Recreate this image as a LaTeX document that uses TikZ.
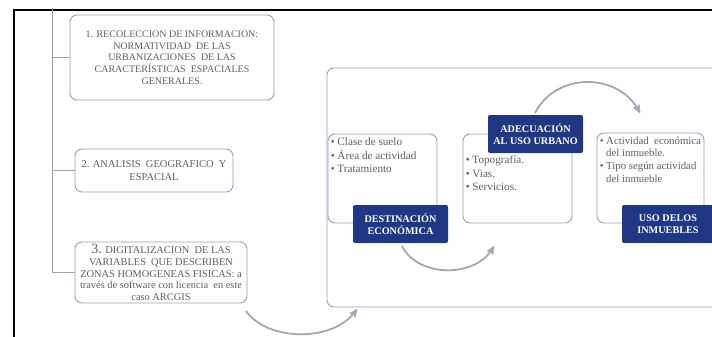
\documentclass[tikz,border=0pt]{standalone}
\usepackage{fontspec}
\setmainfont{Liberation Serif}
\usetikzlibrary{arrows,positioning}
\definecolor{boxline}{RGB}{150,158,195}
\definecolor{navy}{RGB}{32,56,132}
\definecolor{greytext}{RGB}{95,95,95}
\definecolor{arcgrey}{RGB}{165,165,180}
\tikzset{phase box/.style={rectangle,rounded corners=7pt,draw=boxline,line width=0.9pt,fill=white,text=greytext,align=center,font=\fontsize{10}{11.7}\selectfont,inner sep=2pt},
         item box/.style={rectangle,rounded corners=7pt,draw=boxline,line width=0.9pt,fill=white,minimum width=109pt,minimum height=89pt,inner sep=0pt},
         title box/.style={rectangle,rounded corners=2pt,fill=navy,text=white,align=center,font=\bfseries\fontsize{10.2}{12}\selectfont,minimum height=38pt,inner sep=0pt},
         item text/.style={anchor=north west,text=greytext,align=left,inner sep=0pt,font=\fontsize{11.2}{13.5}\selectfont},
         flow arc/.style={draw=arcgrey,line width=1.8pt,->,>=stealth'}
}

\begin{document}
\begin{tikzpicture}[x=1pt,y=-1pt]
\clip (0,0) rectangle (712,337);
\fill[white] (0,0) rectangle (712,337);
% frame
\draw[line width=2pt] (14,337) -- (14,10) -- (712,10);

% steps
\node[phase box,minimum width=204pt,minimum height=85pt] (1) at (172,57.5)
    {1. RECOLECCION DE INFORMACION:\\ NORMATIVIDAD\ \ DE LAS\\ URBANIZACIONES\ \ DE LAS\\ CARACTERÍSTICAS\ \ ESPACIALES\\ GENERALES.};
\node[phase box,minimum width=158pt,minimum height=43pt,font=\fontsize{10.5}{12.5}\selectfont] (2) at (154,170.5)
    {2. ANALISIS\ \ GEOGRAFICO\ \ Y\\ ESPACIAL};
\node[phase box,minimum width=172pt,minimum height=61pt,font=\fontsize{10.4}{11.6}\selectfont] (3) at (161,272.5)
    {{\fontsize{14}{12}\selectfont 3.} DIGITALIZACION\ \ DE LAS\\ VARIABLES\ \ QUE DESCRIBEN\\ ZONAS HOMOGENEAS FISICAS: a\\ través\ de software\ con licencia\ \ en este\\ caso ARCGIS};

\coordinate (trunk) at (52,8);
\draw[boxline,line width=0.9pt] (trunk) |- (1.west);
\draw[boxline,line width=0.9pt] (trunk) |- (2.west);
\draw[boxline,line width=0.9pt] (trunk) |- (3.west);

% process panel
\node[item box,minimum width=396pt,minimum height=239pt] (panel) at (525,187.5) {};

\node[item box] (a) at (382.5,178.5) {};
\node[item box] (b) at (517.5,178.5) {};
\node[item box,minimum width=107pt,minimum height=90pt] (c) at (650.5,178) {};

\node[item text] (at) at ([shift={(3,4)}]a.north west)
    {\textbullet\ Clase de suelo\\ \textbullet\ Área de actividad\\ \textbullet\ Tratamiento};
\node[item text] (bt) at ([shift={(3,22)}]b.north west)
    {\textbullet\ Topografía.\\ \textbullet\ Vias.\\ \textbullet\ Servicios.};
\node[item text,font=\fontsize{10.8}{12.3}\selectfont] (ct) at ([shift={(3,4)}]c.north west)
    {\textbullet\ Actividad\ \ económica\\ \phantom{\textbullet\ }del inmueble.\\[1pt] \textbullet\ Tipo según actividad\\ \phantom{\textbullet\ }del inmueble};

\node[title box,minimum width=95pt] (da) at (400.5,224) {DESTINACIÓN\\ ECONÓMICA};
\node[title box,minimum width=95pt] (db) at (535.5,134) {ADECUACIÓN\\ AL USO URBANO};
\node[title box,minimum width=92pt] (dc) at (668,224) {USO DELOS\\ INMUEBLES};

% arcs
\coordinate (s1) at (246,311);
\coordinate (e1) at (357,309);
\coordinate (s2) at (402,246);
\coordinate (e2) at (494,246);
\coordinate (s3) at (535,113);
\coordinate (e3) at (640,113);
\draw[flow arc] (s1) .. controls (268,342) and (334,342) .. (e1);
\draw[flow arc] (s2) .. controls (418,278) and (476,278) .. (e2);
\draw[flow arc] (s3) .. controls (556,72) and (618,72) .. (e3);
\end{tikzpicture}
\end{document}
